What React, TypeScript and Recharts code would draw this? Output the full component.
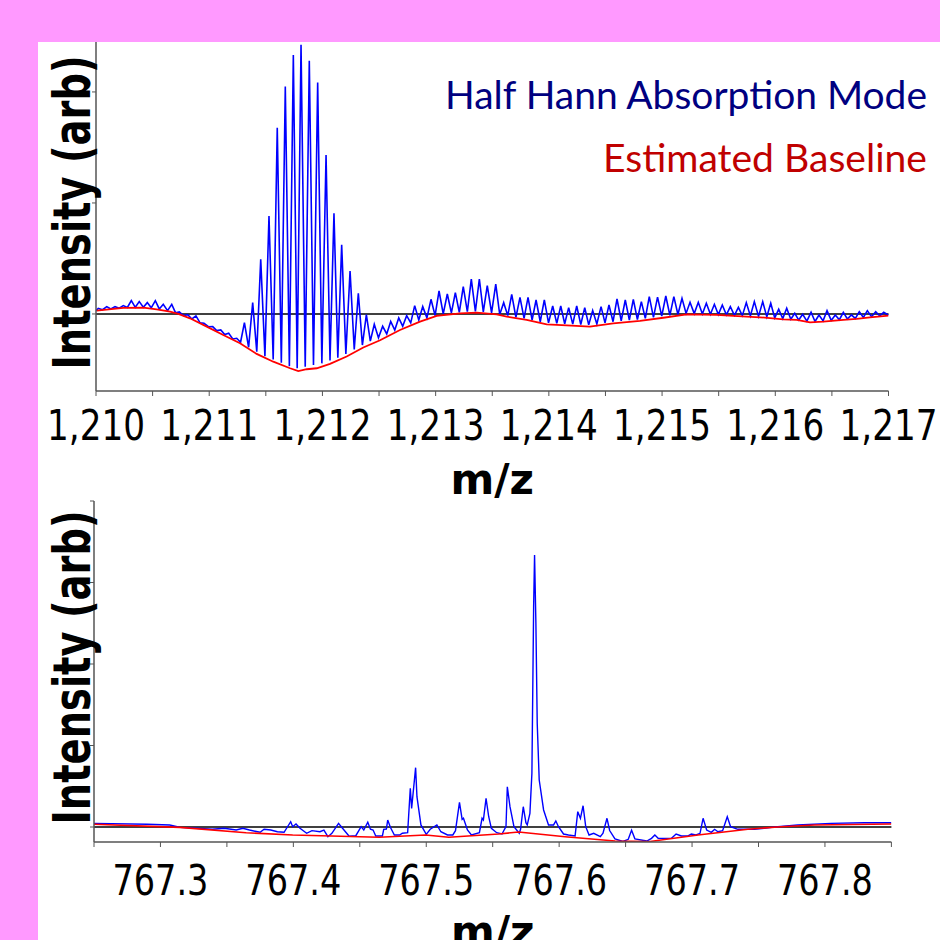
import React from 'react';
import { LineChart, Line, XAxis, YAxis, ReferenceLine, Legend } from 'recharts';

// ---- top panel (m/z 1,210 - 1,217), intensity in arbitrary units ----
const topPeakMz = [
  1210.020, 1210.095, 1210.168, 1210.241, 1210.312, 1210.382, 1210.453, 1210.524, 1210.594, 1210.669,
  1210.736, 1210.810, 1210.883, 1210.954, 1211.031, 1211.102, 1211.172, 1211.243, 1211.311, 1211.384,
  1211.455, 1211.528, 1211.601, 1211.672, 1211.743, 1211.811, 1211.884, 1211.958, 1212.032, 1212.102,
  1212.170, 1212.244, 1212.317, 1212.388, 1212.458, 1212.532, 1212.603, 1212.674, 1212.744, 1212.815,
  1212.886, 1212.959, 1213.030, 1213.103, 1213.174, 1213.244, 1213.315, 1213.386, 1213.456, 1213.531,
  1213.601, 1213.672, 1213.745, 1213.816, 1213.887, 1213.960, 1214.034, 1214.105, 1214.175, 1214.246,
  1214.317, 1214.387, 1214.461, 1214.531, 1214.602, 1214.675, 1214.746, 1214.817, 1214.887, 1214.960,
  1215.033, 1215.104, 1215.176, 1215.247, 1215.320, 1215.391, 1215.462, 1215.532, 1215.603, 1215.674,
  1215.744, 1215.815, 1215.889, 1215.960, 1216.030, 1216.101, 1216.172, 1216.242, 1216.316, 1216.386,
  1216.457, 1216.530, 1216.601, 1216.672, 1216.742, 1216.813, 1216.887, 1216.958,
];
const topPeakInt = [
  0.051, 0.066, 0.066, 0.075, 0.120, 0.111, 0.102, 0.120, 0.087, 0.087,
  0.018, -0.006, -0.018, -0.084, -0.114, -0.144, -0.174, -0.219, -0.078, 0.102,
  0.493, 0.883, 1.678, 2.048, 2.333, 2.426, 2.282, 2.084, 1.432, 0.907,
  0.624, 0.387, 0.186, -0.006, -0.093, -0.111, -0.068, -0.036, -0.015, 0.075,
  0.066, 0.132, 0.207, 0.180, 0.192, 0.246, 0.313, 0.315, 0.255, 0.268,
  0.102, 0.177, 0.150, 0.150, 0.126, 0.126, 0.072, 0.072, 0.057, 0.072,
  0.057, 0.030, 0.066, 0.081, 0.135, 0.126, 0.132, 0.111, 0.156, 0.151,
  0.162, 0.156, 0.141, 0.105, 0.105, 0.096, 0.087, 0.081, 0.066, 0.060,
  0.102, 0.111, 0.111, 0.096, 0.042, 0.051, 0.006, -0.003, 0.015, -0.009,
  0.030, -0.009, 0.015, -0.009, 0.021, 0.030, 0.021, 0.015,
];
const topValleyMz = [
  1210.000,
  1210.058, 1210.131, 1210.205, 1210.277, 1210.347, 1210.418, 1210.488, 1210.559, 1210.632, 1210.703,
  1210.773, 1210.847, 1210.919, 1210.993, 1211.066, 1211.137, 1211.208, 1211.277, 1211.348, 1211.420,
  1211.492, 1211.565, 1211.637, 1211.708, 1211.777, 1211.848, 1211.921, 1211.995, 1212.067, 1212.136,
  1212.207, 1212.281, 1212.353, 1212.423, 1212.495, 1212.568, 1212.639, 1212.709, 1212.780, 1212.851,
  1212.923, 1212.995, 1213.067, 1213.139, 1213.209, 1213.280, 1213.351, 1213.421, 1213.494, 1213.566,
  1213.637, 1213.709, 1213.781, 1213.852, 1213.924, 1213.997, 1214.070, 1214.140, 1214.211, 1214.282,
  1214.352, 1214.424, 1214.496, 1214.567, 1214.639, 1214.711, 1214.782, 1214.852, 1214.924, 1214.997,
  1215.069, 1215.140, 1215.212, 1215.284, 1215.356, 1215.427, 1215.497, 1215.568, 1215.639, 1215.709,
  1215.780, 1215.852, 1215.925, 1215.995, 1216.066, 1216.137, 1216.207, 1216.279, 1216.351, 1216.422,
  1216.494, 1216.566, 1216.637, 1216.707, 1216.778, 1216.850, 1216.923,
  1217.000,
];
const topValleyInt = [
  0.030,
  0.038, 0.045, 0.052, 0.058, 0.060, 0.060, 0.055, 0.045, 0.030, 0.010,
  -0.015, -0.045, -0.080, -0.115, -0.150, -0.185, -0.225, -0.255, -0.300, -0.340,
  -0.380, -0.410, -0.440, -0.470, -0.490, -0.475, -0.460, -0.445, -0.420, -0.395,
  -0.360, -0.320, -0.280, -0.245, -0.215, -0.180, -0.145, -0.110, -0.080, -0.055,
  -0.035, -0.015, 0.000, 0.010, 0.015, 0.020, 0.022, 0.018, 0.010, -0.005,
  -0.015, -0.030, -0.040, -0.055, -0.070, -0.080, -0.085, -0.088, -0.092, -0.095,
  -0.098, -0.090, -0.080, -0.070, -0.062, -0.055, -0.050, -0.040, -0.030, -0.020,
  -0.012, -0.005, 0.005, 0.003, 0.000, -0.002, -0.005, -0.008, -0.012, -0.015,
  -0.018, -0.022, -0.026, -0.035, -0.042, -0.048, -0.055, -0.065, -0.068, -0.062,
  -0.058, -0.052, -0.045, -0.040, -0.032, -0.025, -0.018,
  -0.012,
];
const topBaseMz = [
  1210.006, 1210.241, 1210.418, 1210.536, 1210.654, 1210.727, 1210.830, 1210.978, 1211.124, 1211.272,
  1211.419, 1211.566, 1211.714, 1211.787, 1211.861, 1211.950, 1212.067, 1212.214, 1212.361, 1212.509,
  1212.685, 1212.862, 1213.009, 1213.215, 1213.363, 1213.539, 1213.628, 1213.804, 1213.981, 1214.158,
  1214.363, 1214.569, 1214.805, 1215.011, 1215.218, 1215.483, 1215.629, 1215.865, 1216.071, 1216.189,
  1216.307, 1216.424, 1216.601, 1216.719, 1216.837, 1217.000,
];
const topBaseInt = [
  0.030, 0.054, 0.057, 0.042, 0.021, 0.000, -0.039, -0.114, -0.189, -0.264,
  -0.360, -0.430, -0.489, -0.515, -0.498, -0.489, -0.450, -0.383, -0.302, -0.237,
  -0.144, -0.069, -0.018, 0.006, 0.012, -0.003, -0.024, -0.054, -0.093, -0.102,
  -0.114, -0.084, -0.063, -0.034, -0.003, -0.009, -0.018, -0.030, -0.048, -0.054,
  -0.075, -0.069, -0.054, -0.045, -0.030, -0.015,
];
const topTicks = [1210, 1210.5, 1211, 1211.5, 1212, 1212.5, 1213, 1213.5, 1214, 1214.5, 1215, 1215.5, 1216, 1216.5, 1217];
const topYTicks = [0, 1, 2];

// ---- bottom panel (m/z 767.25 - 767.85) ----
const botMz = [
  767.250, 767.290, 767.307, 767.315, 767.327, 767.339, 767.348, 767.357, 767.362, 767.367,
  767.375, 767.378, 767.383, 767.388, 767.393, 767.398, 767.3995, 767.402, 767.405, 767.410,
  767.414, 767.420, 767.423, 767.426, 767.429, 767.434, 767.437, 767.442, 767.447, 767.451,
  767.453, 767.456, 767.458, 767.460, 767.462, 767.467, 767.468, 767.470, 767.471, 767.473,
  767.476, 767.480, 767.482, 767.486, 767.488, 767.489, 767.492, 767.493, 767.496, 767.500,
  767.503, 767.508, 767.511, 767.516, 767.520, 767.522, 767.525, 767.527, 767.528, 767.531,
  767.534, 767.540, 767.542, 767.543, 767.545, 767.547, 767.549, 767.553, 767.557, 767.560,
  767.561, 767.563, 767.566, 767.570, 767.571, 767.573, 767.575, 767.576, 767.578, 767.5795,
  767.5808, 767.5815, 767.5825, 767.5835, 767.585, 767.5883, 767.592, 767.5958, 767.5975, 767.5995,
  767.6033, 767.607, 767.612, 767.614, 767.616, 767.618, 767.620, 767.6225, 767.626, 767.631,
  767.633, 767.636, 767.638, 767.642, 767.648, 767.652, 767.6545, 767.657, 767.666, 767.6695,
  767.672, 767.6745, 767.6845, 767.688, 767.692, 767.697, 767.6995, 767.703, 767.706, 767.7083,
  767.711, 767.7145, 767.717, 767.7195, 767.723, 767.7265, 767.729, 767.7345, 767.747, 767.7645,
  767.7795, 767.8045, 767.8295, 767.850,
];
const botInt = [
  0.045, 0.033, 0.025, -0.004, -0.016, -0.028, -0.016, -0.037, -0.016, -0.037,
  -0.065, -0.028, -0.037, -0.058, -0.065, 0.065, 0.004, 0.037, -0.016, -0.077,
  -0.045, -0.058, -0.037, -0.119, -0.077, 0.045, -0.016, -0.113, -0.107, 0.004,
  -0.037, 0.058, -0.028, -0.037, -0.110, -0.110, -0.028, -0.025, 0.086, -0.004,
  -0.098, -0.098, -0.077, -0.070, 0.475, 0.229, 0.728, 0.372, 0.025, -0.090,
  -0.028, 0.025, -0.058, -0.098, -0.098, -0.045, 0.303, 0.094, 0.107, -0.037,
  -0.098, -0.070, 0.107, 0.086, 0.352, 0.126, -0.016, -0.070, -0.086, 0.004,
  0.494, 0.249, 0.004, -0.077, -0.025, 0.249, 0.053, 0.025, 0.168, 0.659,
  2.703, 3.337, 2.499, 1.272, 0.577, 0.209, 0.025, 0.025, 0.074, 0.004,
  -0.086, -0.098, -0.110, 0.188, 0.107, 0.261, 0.004, -0.098, -0.077, -0.119,
  -0.077, 0.107, -0.043, -0.145, -0.178, -0.151, -0.040, -0.145, -0.172, -0.139,
  -0.098, -0.139, -0.139, -0.086, -0.110, -0.110, -0.086, -0.098, -0.077, 0.107,
  -0.037, -0.065, -0.028, -0.058, -0.045, 0.126, 0.004, -0.028, -0.028, 0.004,
  0.025, 0.045, 0.053, 0.053,
];
const botBaseMz = [
  767.250, 767.3145, 767.3645, 767.3995, 767.4645, 767.4995, 767.517, 767.5545, 767.5695, 767.6045,
  767.642, 767.667, 767.7045, 767.742, 767.767, 767.792, 767.850,
];
const botBaseInt = [
  0.033, -0.004, -0.070, -0.098, -0.126, -0.098, -0.126, -0.086, -0.061, -0.119,
  -0.172, -0.180, -0.098, -0.028, 0.004, 0.025, 0.037,
];
const botTicks = [767.25, 767.3, 767.35, 767.4, 767.45, 767.5, 767.55, 767.6, 767.65, 767.7, 767.75, 767.8, 767.85];
const botYTicks = [0, 1, 2, 3, 4];

const zip = (xs: number[], ys: number[]) => xs.map((mz, i) => ({ mz, v: ys[i] }));

const topTrace = [...zip(topPeakMz, topPeakInt), ...zip(topValleyMz, topValleyInt)].sort((a, b) => a.mz - b.mz);
const topBase = zip(topBaseMz, topBaseInt);
const botTrace = zip(botMz, botInt);
const botBase = zip(botBaseMz, botBaseInt);

const AXIS = '#555';

const TopTick = ({ x, y, payload }: any) => {
  if (!Number.isInteger(payload.value)) return <g />;
  return (
    <text x={x} y={y + 42} textAnchor="middle" fontSize={42} fontFamily="DejaVu Sans" fill="#000"
      textLength={98} lengthAdjust="spacingAndGlyphs">
      {payload.value.toLocaleString('en-US')}
    </text>
  );
};

const BotTick = ({ x, y, payload }: any) => {
  if (Math.round(payload.value * 100) % 10 !== 0) return <g />;
  return (
    <text x={x} y={y + 46} textAnchor="middle" fontSize={42} fontFamily="DejaVu Sans" fill="#000"
      textLength={96} lengthAdjust="spacingAndGlyphs">
      {payload.value.toFixed(1)}
    </text>
  );
};

const NoTick = () => <g />;

// rotated axis title, baseline sits `gap` px left of the axis line
const yLabel = (gap: number) => (props: any) => {
  const vb = props.viewBox;
  const x = vb.x + vb.width - gap;
  const cy = vb.y + vb.height / 2 - 4;
  return (
    <text x={x} y={cy} transform={`rotate(-90, ${x}, ${cy})`} textAnchor="middle" fontSize={52}
      fontWeight="bold" fontFamily="DejaVu Sans" fill="#000" textLength={314} lengthAdjust="spacingAndGlyphs">
      Intensity (arb)
    </text>
  );
};

const xLabel = (dy: number) => (props: any) => {
  const vb = props.viewBox;
  return (
    <text x={vb.x + vb.width / 2} y={vb.y + dy} textAnchor="middle" fontSize={42} fontWeight="bold"
      fontFamily="DejaVu Sans" fill="#000">
      m/z
    </text>
  );
};

const LegendBox = () => (
  <svg width={510} height={130} style={{ display: 'block' }}>
    <text x={15} y={49} fontSize={38} fontFamily="Lato" fill="#000080" textLength={482} lengthAdjust="spacingAndGlyphs">
      Half Hann Absorption Mode
    </text>
    <text x={173} y={112} fontSize={38} fontFamily="Lato" fill="#C00000" textLength={324} lengthAdjust="spacingAndGlyphs">
      Estimated Baseline
    </text>
  </svg>
);

export default function App() {
  return (
    <div style={{ position: 'absolute', left: 0, top: 0, width: 940, height: 940, background: '#FF99FF', overflow: 'hidden' }}>
      <div style={{ position: 'absolute', left: 38, top: 42, width: 902, height: 898, background: '#fff' }} />

      <div style={{ position: 'absolute', left: 0, top: 0 }}>
        <LineChart width={940} height={500} margin={{ top: 42, right: 51.5, left: 38, bottom: 0 }}>
          <XAxis dataKey="mz" type="number" domain={[1210, 1217]} ticks={topTicks} allowDataOverflow
            height={109} tickSize={5} axisLine={{ stroke: AXIS, strokeWidth: 1.5 }} tickLine={{ stroke: AXIS }}
            tick={<TopTick />} interval={0} label={{ content: xLabel(103) }} />
          <YAxis type="number" domain={[-0.694, 2.45]} ticks={topYTicks} allowDataOverflow width={58}
            tickSize={4} axisLine={{ stroke: AXIS, strokeWidth: 1.5 }} tickLine={{ stroke: AXIS }}
            tick={<NoTick />} label={{ content: yLabel(6) }} />
          <ReferenceLine y={0} stroke="#000" strokeWidth={1.5} />
          <Line data={topTrace} dataKey="v" stroke="#0000FF" strokeWidth={1.6} dot={false} type="linear" isAnimationActive={false} />
          <Line data={topBase} dataKey="v" stroke="#FF0000" strokeWidth={1.8} dot={false} type="linear" isAnimationActive={false} />
          <Legend layout="horizontal" align="center" verticalAlign="middle" content={<LegendBox />}
            wrapperStyle={{ top: 60, left: 430, width: 510, height: 130 }} />
        </LineChart>
      </div>

      <div style={{ position: 'absolute', left: 0, top: 450 }}>
        <LineChart width={940} height={490} margin={{ top: 51, right: 48.6, left: 38, bottom: 0 }}>
          <XAxis dataKey="mz" type="number" domain={[767.25, 767.85]} ticks={botTicks} allowDataOverflow
            height={98} tickSize={5} axisLine={{ stroke: AXIS, strokeWidth: 1.5 }} tickLine={{ stroke: AXIS }}
            tick={<BotTick />} interval={0} label={{ content: xLabel(104) }} />
          <YAxis type="number" domain={[-0.184, 4]} ticks={botYTicks} allowDataOverflow width={56}
            tickSize={4} axisLine={{ stroke: AXIS, strokeWidth: 1.5 }} tickLine={{ stroke: AXIS }}
            tick={<NoTick />} label={{ content: yLabel(4) }} />
          <ReferenceLine y={0} stroke="#000" strokeWidth={1.5} />
          <Line data={botTrace} dataKey="v" stroke="#0000FF" strokeWidth={1.4} dot={false} type="linear" isAnimationActive={false} />
          <Line data={botBase} dataKey="v" stroke="#FF0000" strokeWidth={1.6} dot={false} type="linear" isAnimationActive={false} />
        </LineChart>
      </div>
    </div>
  );
}
